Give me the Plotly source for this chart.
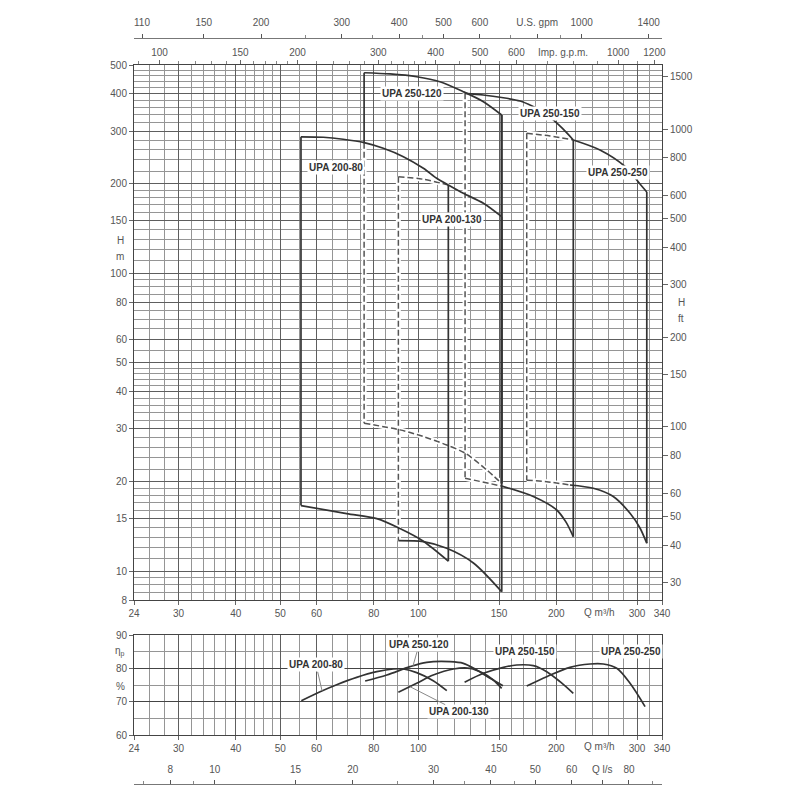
import numpy as np
import plotly.graph_objects as go

# ---------------- axis tick values / labels ----------------
Q_TICKS = [24, 30, 40, 50, 60, 80, 100, 150, 200, 300, 340]
Q_GRID_MINOR = [26, 28, 32, 34, 36, 38, 42, 44, 46, 48, 55, 65, 70, 75, 85, 90, 95,
                110, 120, 130, 140, 160, 170, 180, 190, 220, 240, 260, 280, 320]
H_TICKS = [8, 10, 15, 20, 30, 40, 50, 60, 80, 100, 150, 200, 300, 400, 500]
H_GRID_MINOR = [8.5, 9, 9.5, 11, 12, 13, 14, 16, 17, 18, 19, 22, 24, 26, 28, 32, 34, 36, 38,
                42, 44, 46, 48, 55, 65, 70, 75, 85, 90, 95, 110, 120, 130, 140, 160, 170,
                180, 190, 220, 240, 260, 280, 320, 340, 360, 380, 420, 440, 460, 480]
FT_TICKS = [30, 40, 50, 60, 80, 100, 150, 200, 300, 400, 500, 600, 800, 1000, 1500]
USGPM_TICKS = [110, 150, 200, 300, 400, 500, 600, 800, 1000, 1400]
USGPM_LABELS = ['110', '150', '200', '300', '400', '500', '600', 'U.S. gpm', '1000', '1400']
USGPM_MINOR = [250, 350, 450, 700, 900]
IMP_TICKS = [100, 150, 200, 300, 400, 500, 600, 1000, 1200]
IMP_MINOR = [90, 110, 120, 130, 140, 160, 170, 180, 190, 220, 240, 260, 280, 320, 340,
             360, 380, 450, 550, 700, 800, 900, 1100]
LS_TICKS = [8, 10, 15, 20, 30, 40, 50, 60, 70, 80]
LS_LABELS = ['8', '10', '15', '20', '30', '40', '50', '60', 'Q l/s', '80']
LS_MINOR = [7, 9, 25, 35, 45, 90]
EFF_TICKS = [60, 70, 80, 90]
EFF_MINOR = [65, 75, 85]

# ---------------- H-Q envelopes (Q m3/h, H m) ----------------
UPA_200_80_TOP_Q = [55.5, 62.1, 68.6, 76.2, 83.9, 92.8, 102.6, 109.7, 116.3]
UPA_200_80_TOP_H = [287, 286, 281.6, 274.4, 262.7, 246.2, 225, 208.4, 197.8]
UPA_200_80_BOT_Q = [55.5, 69.8, 81.2, 91.2, 102.6, 116.3]
UPA_200_80_BOT_H = [16.6, 15.6, 15.0, 13.9, 12.6, 10.8]

UPA_200_130_TOP_Q = [90.5, 102.6, 116.3, 125.4, 138.7, 152]
UPA_200_130_TOP_H = [210.9, 206.7, 197.8, 185.5, 171.7, 154.8]
UPA_200_130_BOT_Q = [90.5, 102.6, 115.4, 131.9, 152]
UPA_200_130_BOT_H = [12.66, 12.56, 11.93, 10.65, 8.53]

UPA_250_120_TOP_Q = [76.2, 86.8, 99.2, 111.5, 125.4, 138.7, 152]
UPA_250_120_TOP_H = [471, 466.6, 456.7, 439.4, 406.8, 376.5, 339.8]
UPA_250_120_BOT_Q = [76.2, 91.2, 102.6, 115.4, 126.5, 141.1, 152]
UPA_250_120_BOT_H = [31.35, 29.8, 28.3, 26.5, 24.9, 21.85, 19.7]

UPA_250_150_TOP_Q = [126.5, 138.5, 152, 166.7, 177.1, 189.0, 197.0, 206.8, 217.8]
UPA_250_150_TOP_H = [401.8, 396.6, 389.0, 378.6, 364.3, 345.1, 326.9, 305.0, 280.1]
UPA_250_150_BOT_Q = [126.5, 152, 178.2, 200.4, 210, 217.8]
UPA_250_150_BOT_H = [20.5, 19.3, 17.8, 16.04, 14.6, 13.05]

UPA_250_250_TOP_Q = [172.4, 193.8, 217.8, 249.0, 282.4, 304.4, 315.0]
UPA_250_250_TOP_H = [294.9, 288.9, 280.1, 259.3, 228.2, 199.3, 187.4]
UPA_250_250_BOT_Q = [172.4, 190.6, 214.2, 240.8, 266.2, 289.6, 304.4, 315.0]
UPA_250_250_BOT_H = [20.2, 19.96, 19.46, 18.97, 17.8, 15.64, 13.96, 12.4]

# ---------------- efficiency curves (Q m3/h, %) ----------------
EFF_200_80_Q = [55.6, 61.1, 66.4, 73.4, 81.2, 88.2, 92.8, 99.2, 107.8, 115.4]
EFF_200_80 = [70.3, 73.0, 75.1, 77.3, 79.0, 79.8, 79.8, 78.7, 76.3, 73.3]
EFF_250_120_Q = [76.6, 85.4, 95.9, 104.3, 117.3, 125.4, 134.1, 143.4, 153]
EFF_250_120 = [76.2, 78.0, 80.5, 81.8, 82.0, 81.5, 79.5, 77.0, 74.8]
EFF_200_130_Q = [90.5, 99.2, 107.8, 119.3, 129.7, 138.7, 145.8, 152]
EFF_200_130 = [72.8, 75.5, 78.0, 79.8, 80.0, 78.5, 76.5, 74.0]
EFF_250_150_Q = [126.2, 138.7, 153.3, 163.9, 178.2, 190.6, 203.8, 217.8]
EFF_250_150 = [75.8, 78.5, 80.3, 81.0, 80.8, 79.0, 76.0, 72.5]
EFF_250_250_Q = [172.4, 190.6, 214.2, 236.9, 253.2, 270.9, 289.6, 312.3]
EFF_250_250 = [74.7, 77.5, 80.3, 81.3, 81.3, 80.0, 75.5, 68.5]

M2FT = 3.28084
M3H_TO_USGPM = 4.40287
M3H_TO_IMPGPM = 3.66615
M3H_TO_LS = 1 / 3.6

# ---------------- layout helpers (screen pixels -> paper) ----------------
OFF = 8                  # page body margin of the browser
T, B = 20, 790           # plot area, screen px
L, R = 134, 662


def fy(py):
    return (B - py) / (B - T)


def fx(px):
    return (px - L) / (R - L)


lg = np.log10
DARK = '#333333'
MAJ = '#5e5e5e'
MIN = '#959595'
TXT = '#555555'
FONT = 'Liberation Sans, Arial, sans-serif'

fig = go.Figure()

# envelope definitions: (top_q, top_h, bot_q, bot_h, style)
MODELS = [
    (UPA_200_80_TOP_Q, UPA_200_80_TOP_H, UPA_200_80_BOT_Q, UPA_200_80_BOT_H,
     dict(left='solid', top_dash=0, bot_dash=0, bot_all=False, right_w=1.7)),
    (UPA_200_130_TOP_Q, UPA_200_130_TOP_H, UPA_200_130_BOT_Q, UPA_200_130_BOT_H,
     dict(left='dashed', top_dash=2, bot_dash=0, bot_all=False, right_w=1.9)),
    (UPA_250_120_TOP_Q, UPA_250_120_TOP_H, UPA_250_120_BOT_Q, UPA_250_120_BOT_H,
     dict(left='split', top_dash=0, bot_dash=0, bot_all=True, right_w=2.4)),
    (UPA_250_150_TOP_Q, UPA_250_150_TOP_H, UPA_250_150_BOT_Q, UPA_250_150_BOT_H,
     dict(left='dashed', top_dash=0, bot_dash=1, bot_all=False, right_w=1.7)),
    (UPA_250_250_TOP_Q, UPA_250_250_TOP_H, UPA_250_250_BOT_Q, UPA_250_250_BOT_H,
     dict(left='dashed', top_dash=2, bot_dash=2, bot_all=False, right_w=1.7)),
]

dashed_segs = []
solid_segs = []
for tq, th, bq, bh, st in MODELS:
    # left edge
    if st['left'] == 'solid':
        solid_segs.append(([tq[0], bq[0]], [th[0], bh[0]], 1.7, 'linear'))
    elif st['left'] == 'dashed':
        dashed_segs.append(([tq[0], bq[0]], [th[0], bh[0]], 'linear'))
    else:
        hx = 10 ** np.interp(lg(tq[0]), lg(UPA_200_80_TOP_Q), lg(UPA_200_80_TOP_H))
        solid_segs.append(([tq[0], tq[0]], [th[0], hx], 1.7, 'linear'))
        dashed_segs.append(([tq[0], bq[0]], [hx, bh[0]], 'linear'))
    # top curve
    k = st['top_dash']
    if k > 0:
        dashed_segs.append((tq[:k + 1], th[:k + 1], 'spline'))
    solid_segs.append((tq[k:], th[k:], 1.7, 'spline'))
    # bottom curve
    if st['bot_all']:
        dashed_segs.append((bq, bh, 'spline'))
    else:
        k = st['bot_dash']
        if k > 0:
            dashed_segs.append((bq[:k + 1], bh[:k + 1], 'spline'))
        solid_segs.append((bq[k:], bh[k:], 1.7, 'spline'))
    # right edge
    solid_segs.append(([tq[-1], bq[-1]], [th[-1], bh[-1]], st['right_w'], 'linear'))

for xs, ys, shp in dashed_segs:
    fig.add_trace(go.Scatter(x=xs, y=ys, mode='lines', xaxis='x', yaxis='y',
                             line=dict(color='white', width=5, shape=shp, smoothing=0.8),
                             hoverinfo='skip', showlegend=False))
for xs, ys, shp in dashed_segs:
    fig.add_trace(go.Scatter(x=xs, y=ys, mode='lines', xaxis='x', yaxis='y',
                             line=dict(color='#555555', width=1.5, dash='6px,3px', shape=shp,
                                       smoothing=0.8),
                             hoverinfo='skip', showlegend=False))
for xs, ys, w, shp in solid_segs:
    fig.add_trace(go.Scatter(x=xs, y=ys, mode='lines', xaxis='x', yaxis='y',
                             line=dict(color=DARK, width=w, shape=shp, smoothing=0.8),
                             hoverinfo='skip', showlegend=False))

# efficiency curves
for q, e in [(EFF_200_80_Q, EFF_200_80), (EFF_250_120_Q, EFF_250_120),
             (EFF_200_130_Q, EFF_200_130), (EFF_250_150_Q, EFF_250_150),
             (EFF_250_250_Q, EFF_250_250)]:
    fig.add_trace(go.Scatter(x=q, y=e, mode='lines', xaxis='x2', yaxis='y3',
                             line=dict(color=DARK, width=1.7, shape='spline', smoothing=0.9),
                             hoverinfo='skip', showlegend=False))

# dummy traces so the secondary scales render
for xa, ya, xv, yv in [('x3', 'y', 300, 100), ('x4', 'y', 400, 100),
                       ('x', 'y2', 100, 300), ('x5', 'y3', 30, 75)]:
    fig.add_trace(go.Scatter(x=[xv], y=[yv], xaxis=xa, yaxis=ya, mode='markers',
                             marker=dict(opacity=0), hoverinfo='skip', showlegend=False))

tickfont = dict(family=FONT, size=10, color=TXT)
common_grid_x = dict(type='log', range=[lg(24), lg(340)], tickmode='array',
                     tickvals=Q_TICKS, ticktext=[str(v) for v in Q_TICKS],
                     ticks='outside', ticklen=4, tickcolor='#666', tickfont=tickfont,
                     showgrid=True, gridcolor=MAJ, gridwidth=1.1,
                     minor=dict(tickmode='array', tickvals=Q_GRID_MINOR, showgrid=True,
                                gridcolor=MIN, gridwidth=0.8, ticks=''),
                     showline=True, linecolor='#444', linewidth=1, mirror=True,
                     zeroline=False, automargin=False)

fig.update_layout(
    width=800, height=800,
    margin=dict(l=L - OFF, r=800 - R + OFF, t=T - OFF, b=800 - B + OFF, autoexpand=False),
    paper_bgcolor='white', plot_bgcolor='white', showlegend=False,
    font=dict(family=FONT, size=10, color=TXT),
    xaxis=dict(domain=[0, 1], anchor='y', **common_grid_x),
    yaxis=dict(type='log', range=[lg(8), lg(500)], domain=[fy(600), fy(65)], anchor='x',
               tickmode='array', tickvals=H_TICKS, ticktext=[str(v) for v in H_TICKS],
               ticks='outside', ticklen=4, tickcolor='#666', tickfont=tickfont,
               showgrid=True, gridcolor=MAJ, gridwidth=1.1,
               minor=dict(tickmode='array', tickvals=H_GRID_MINOR, showgrid=True,
                          gridcolor=MIN, gridwidth=0.8, ticks=''),
               showline=True, linecolor='#444', linewidth=1, mirror=True, zeroline=False,
               automargin=False),
    yaxis2=dict(type='log', range=[lg(8 * M2FT), lg(500 * M2FT)], overlaying='y',
                side='right', anchor='x', tickmode='array', tickvals=FT_TICKS,
                ticktext=[str(v) for v in FT_TICKS], ticks='outside', ticklen=5,
                tickcolor='#666', tickfont=tickfont, showgrid=False, zeroline=False,
                showline=False, automargin=False),
    xaxis3=dict(type='log', range=[lg(24 * M3H_TO_IMPGPM), lg(340 * M3H_TO_IMPGPM)],
                overlaying='x', anchor='y', side='top', tickmode='array',
                tickvals=IMP_TICKS, ticktext=[str(v) for v in IMP_TICKS],
                ticks='outside', ticklen=4, tickcolor='#666', tickfont=tickfont,
                minor=dict(tickmode='array', tickvals=IMP_MINOR, ticks='outside',
                           ticklen=3, tickcolor='#888', showgrid=False),
                showgrid=False, zeroline=False, showline=False, automargin=False),
    xaxis4=dict(type='log', range=[lg(24 * M3H_TO_USGPM), lg(340 * M3H_TO_USGPM)],
                overlaying='x', anchor='free', position=fy(38), side='top',
                tickmode='array', tickvals=USGPM_TICKS, ticktext=USGPM_LABELS,
                ticks='outside', ticklen=4, tickcolor='#555', tickfont=tickfont,
                ticklabelstandoff=4,
                minor=dict(tickmode='array', tickvals=USGPM_MINOR, ticks='outside',
                           ticklen=3, tickcolor='#888', showgrid=False),
                showgrid=False, zeroline=False, showline=True, linecolor='#777',
                linewidth=1, automargin=False),
    xaxis2=dict(domain=[0, 1], anchor='y3', **common_grid_x),
    yaxis3=dict(range=[60, 90], domain=[fy(735), fy(635)], anchor='x2',
                tickmode='array', tickvals=EFF_TICKS, ticktext=[str(v) for v in EFF_TICKS],
                ticks='outside', ticklen=4, tickcolor='#666', tickfont=tickfont,
                showgrid=True, gridcolor='#444', gridwidth=1.4,
                minor=dict(tickmode='array', tickvals=EFF_MINOR, showgrid=True,
                           gridcolor=MIN, gridwidth=0.8, ticks=''),
                showline=True, linecolor='#444', linewidth=1, mirror=True, zeroline=False,
                automargin=False),
    xaxis5=dict(type='log', range=[lg(24 * M3H_TO_LS), lg(340 * M3H_TO_LS)],
                overlaying='x2', anchor='free', position=fy(784), side='top',
                tickmode='array', tickvals=LS_TICKS, ticktext=LS_LABELS,
                ticks='outside', ticklen=4, tickcolor='#555', tickfont=tickfont,
                ticklabelstandoff=3,
                minor=dict(tickmode='array', tickvals=LS_MINOR, ticks='outside',
                           ticklen=3, tickcolor='#888', showgrid=False),
                showgrid=False, zeroline=False, showline=True, linecolor='#777',
                linewidth=1, automargin=False),
)

ann = []
txt = dict(family=FONT, size=10, color=TXT)
for s, px, py in [('H', 120, 240), ('m', 120, 256), ('η<sub>p</sub>', 120, 651),
                  ('%', 120, 686)]:
    ann.append(dict(text=s, xref='paper', yref='paper', x=fx(px), y=fy(py),
                    showarrow=False, font=txt, xanchor='center', yanchor='middle'))
for s, px, py in [('H', 681, 302), ('ft', 681, 318), ('Imp. g.p.m.', 563, 53)]:
    ann.append(dict(text=s, xref='paper', yref='paper', x=fx(px), y=fy(py),
                    showarrow=False, font=txt, xanchor='center', yanchor='middle'))
for py in [612, 746]:
    ann.append(dict(text='Q m³/h', xref='x', yref='paper', x=lg(248), y=fy(py),
                    showarrow=False, font=txt, xanchor='center', yanchor='middle'))

lab = dict(family=FONT, size=10, color='#333')
for s, q, h in [('UPA 250-120', 96.9, 402), ('UPA 250-150', 193.8, 345),
                ('UPA 200-80', 66.2, 227), ('UPA 200-130', 118.5, 151),
                ('UPA 250-250', 272.6, 217)]:
    ann.append(dict(text='<b>' + s + '</b>', xref='x', yref='y', x=lg(q), y=lg(h),
                    showarrow=False, font=lab, bgcolor='white', borderpad=1))

# efficiency labels
for s, q, e in [('UPA 250-150', 170.7, 85.0), ('UPA 250-250', 291, 85.0)]:
    ann.append(dict(text='<b>' + s + '</b>', xref='x2', yref='y3', x=lg(q), y=e,
                    showarrow=False, font=lab, bgcolor='white', borderpad=1))
for s, q, curve_q, curve_e, ax, ay in [
        ('UPA 200-80', 61.7, EFF_200_80_Q, EFF_200_80, -6, -26),
        ('UPA 250-120', 97.4, EFF_250_120_Q, EFF_250_120, 6, -21),
        ('UPA 200-130', 95.9, EFF_200_130_Q, EFF_200_130, 49, 25)]:
    e = float(np.interp(lg(q), lg(curve_q), curve_e))
    ann.append(dict(text='<b>' + s + '</b>', xref='x2', yref='y3', x=lg(q), y=e,
                    showarrow=True, arrowhead=0, arrowwidth=1, arrowcolor='#888',
                    ax=ax, ay=ay, font=lab, bgcolor='white', borderpad=1))

fig.update_layout(annotations=ann)
fig.write_html('out.html')
